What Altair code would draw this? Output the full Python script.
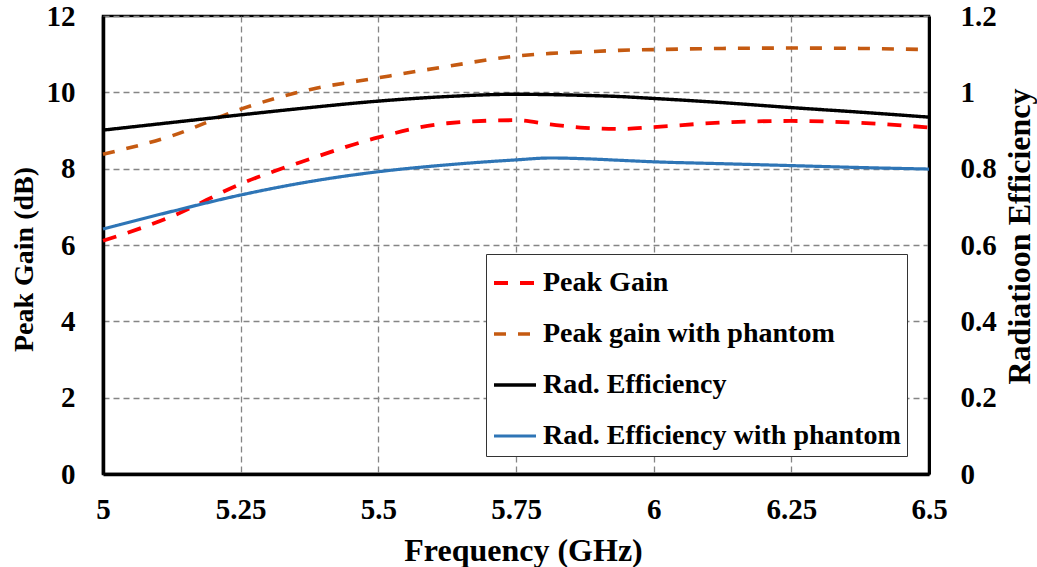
import altair as alt
import pandas as pd

# Frequency sweep (GHz)
freq = [5.0, 5.125, 5.25, 5.375, 5.5, 5.625, 5.75, 5.8125, 5.875, 5.9375, 6.0, 6.125, 6.25, 6.375, 6.5]

# Peak gain curves (dB, left axis)
peak_gain = [6.11, 6.75, 7.60, 8.25, 8.82, 9.19, 9.27, 9.16, 9.07, 9.04, 9.09, 9.21, 9.25, 9.20, 9.08]
peak_gain_phantom = [8.38, 8.86, 9.56, 10.07, 10.38, 10.68, 10.95, 11.02, 11.06, 11.10, 11.12, 11.15, 11.16, 11.15, 11.12]

# Radiation efficiency curves (right axis)
rad_eff = [0.901, 0.921, 0.941, 0.960, 0.977, 0.989, 0.995, 0.994, 0.992, 0.989, 0.984, 0.973, 0.960, 0.948, 0.935]
rad_eff_phantom = [0.642, 0.688, 0.731, 0.766, 0.792, 0.810, 0.823, 0.828, 0.826, 0.822, 0.818, 0.813, 0.808, 0.803, 0.799]

series_names = ["Peak Gain", "Peak gain with phantom", "Rad. Efficiency", "Rad. Efficiency with phantom"]
series_colors = ["#FF0000", "#C55A11", "#000000", "#2E75B6"]
series_dash = [[14, 12], [12, 12], [1, 0], [1, 0]]
series_width = [3.8, 3.2, 3.2, 3.6]

x_ticks = [5, 5.25, 5.5, 5.75, 6, 6.25, 6.5]
gain_ticks = [0, 2, 4, 6, 8, 10, 12]
eff_ticks = [0, 0.2, 0.4, 0.6, 0.8, 1, 1.2]

n = len(freq)
gain_df = pd.DataFrame({
    "freq": freq * 2,
    "value": peak_gain + peak_gain_phantom,
    "series": [series_names[0]] * n + [series_names[1]] * n,
})
eff_df = pd.DataFrame({
    "freq": freq * 2,
    "value": rad_eff + rad_eff_phantom,
    "series": [series_names[2]] * n + [series_names[3]] * n,
})

FONT = "Liberation Serif"
GRID_COLOR = "#858585"

x_axis = alt.Axis(
    values=x_ticks, labelExpr="'' + datum.value", title="Frequency (GHz)",
    grid=True, gridDash=[6, 4], gridColor=GRID_COLOR, gridWidth=1.3,
    ticks=False, domainColor="black", domainWidth=3.5,
    labelFont=FONT, labelFontSize=29, labelFontWeight="bold", labelColor="black",
    labelPadding=21, labelFlush=False,
    titleFont=FONT, titleFontSize=32, titleFontWeight="bold", titleColor="black",
    titleBaseline="alphabetic", titleAlign="center", titleX=420, titleY=86,
)
x_enc = alt.X("freq:Q", scale=alt.Scale(domain=[5, 6.5], nice=False, zero=False), axis=x_axis)

legend = alt.Legend(
    orient="none", legendX=383, legendY=238, title=None, direction="vertical",
    labelFont=FONT, labelFontSize=28, labelFontWeight="bold", labelColor="black",
    labelLimit=600, labelOffset=5,
    symbolType="stroke", symbolSize=1764, symbolStrokeWidth=3.5,
    padding=6, rowPadding=14,
    strokeColor="#333333", fillColor="white",
)
color_enc = alt.Color("series:N", scale=alt.Scale(domain=series_names, range=series_colors), legend=legend)
dash_enc = alt.StrokeDash("series:N", scale=alt.Scale(domain=series_names, range=series_dash), legend=legend)
width_enc = alt.StrokeWidth("series:N", scale=alt.Scale(domain=series_names, range=series_width), legend=None)

gain_layer = alt.Chart(gain_df).mark_line(interpolate="monotone", strokeCap="butt").encode(
    x=x_enc,
    y=alt.Y("value:Q", scale=alt.Scale(domain=[0, 12], nice=False),
            axis=alt.Axis(
                values=gain_ticks, orient="left", title="Peak Gain (dB)",
                grid=True, gridDash=[6, 4], gridColor=GRID_COLOR, gridWidth=1.3,
                ticks=False, domainColor="black", domainWidth=3.5,
                labelFont=FONT, labelFontSize=29, labelFontWeight="bold", labelColor="black",
                labelPadding=28, labelFlush=False,
                titleFont=FONT, titleFontSize=28, titleFontWeight="bold", titleColor="black",
                titleAngle=270, titleAlign="center", titleBaseline="alphabetic",
                titleX=-71, titleY=243,
            )),
    color=color_enc,
    strokeDash=dash_enc,
    strokeWidth=width_enc,
    order=alt.Order("freq:Q"),
)

eff_layer = alt.Chart(eff_df).mark_line(interpolate="monotone", strokeCap="butt").encode(
    x=x_enc,
    y=alt.Y("value:Q", scale=alt.Scale(domain=[0, 1.2], nice=False),
            axis=alt.Axis(
                values=eff_ticks, format="~g", orient="right", title="Radiatioon Efficiency",
                grid=False, ticks=False, domainColor="black", domainWidth=3,
                labelFont=FONT, labelFontSize=29, labelFontWeight="bold", labelColor="black",
                labelPadding=31, labelFlush=False,
                titleFont=FONT, titleFontSize=32, titleFontWeight="bold", titleColor="black",
                titleAngle=270, titleAlign="center", titleBaseline="alphabetic",
                titleX=100, titleY=220,
            )),
    color=color_enc,
    strokeDash=dash_enc,
    strokeWidth=width_enc,
    order=alt.Order("freq:Q"),
)

chart = (
    alt.layer(gain_layer, eff_layer)
    .resolve_scale(y="independent")
    .properties(
        width=826, height=458,
        padding={"left": 103, "top": 16, "right": 108, "bottom": 93},
        autosize=alt.AutoSizeParams(type="none"),
        background="white",
    )
    .configure_view(stroke="black", strokeWidth=2.5)
)

chart.save("out.html", embed_options={"renderer": "svg", "actions": False})
